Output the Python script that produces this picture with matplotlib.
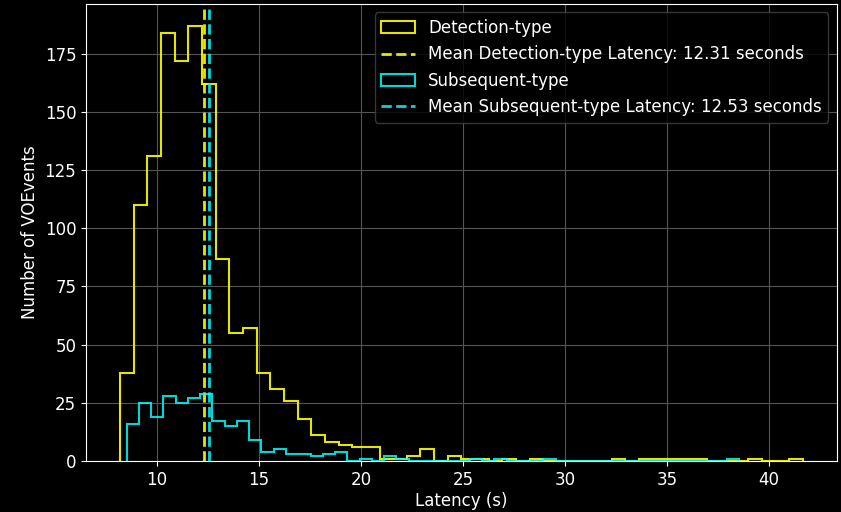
import numpy as np
import matplotlib
matplotlib.use("Agg")
import matplotlib.pyplot as plt

# Histogram bin ranges (s) and counts
det_range = (8.19, 41.65)
det_counts = [38, 110, 131, 184, 172, 187, 162, 87, 55, 57,
              38, 31, 26, 18, 11, 8, 7, 6, 6, 1,
              1, 2, 5, 0, 2, 1, 1, 0, 1, 0,
              1, 0, 0, 0, 0, 0, 1, 0, 1, 1,
              1, 1, 1, 0, 0, 0, 1, 0, 0, 1]
sub_range = (8.51, 38.55)
sub_counts = [16, 25, 19, 28, 25, 27, 29, 17, 15, 17,
              9, 4, 5, 3, 3, 2, 3, 4, 0, 1,
              0, 2, 1, 0, 0, 0, 0, 0, 1, 0,
              1, 0, 0, 0, 1, 0, 0, 0, 0, 0,
              0, 0, 0, 0, 0, 0, 0, 0, 0, 1]
mean_det = 12.31
mean_sub = 12.53

plt.style.use("dark_background")
plt.rcParams["font.size"] = 12

fig = plt.figure(figsize=(8.41, 5.12), dpi=100)
ax = fig.add_axes([0.1023, 0.0996, 0.8927, 0.8924])

det_edges = np.linspace(det_range[0], det_range[1], len(det_counts) + 1)
sub_edges = np.linspace(sub_range[0], sub_range[1], len(sub_counts) + 1)
det_centers = (det_edges[:-1] + det_edges[1:]) / 2
sub_centers = (sub_edges[:-1] + sub_edges[1:]) / 2

ax.hist(det_centers, bins=det_edges, weights=det_counts, histtype="step",
        color="yellow", alpha=0.9, linewidth=1.5, label="Detection-type")
ax.axvline(mean_det, color="yellow", alpha=0.9, linestyle="--", linewidth=2,
           label=f"Mean Detection-type Latency: {mean_det:.2f} seconds")
ax.hist(sub_centers, bins=sub_edges, weights=sub_counts, histtype="step",
        color="cyan", alpha=0.85, linewidth=1.5, label="Subsequent-type")
ax.axvline(mean_sub, color="cyan", alpha=0.85, linestyle="--", linewidth=2,
           label=f"Mean Subsequent-type Latency: {mean_sub:.2f} seconds")

ax.set_xlabel("Latency (s)", labelpad=2)
ax.set_ylabel("Number of VOEvents")
ax.grid(True, color="#555555", linewidth=0.8)
ax.set_axisbelow(True)
leg = ax.legend(loc="upper right", fontsize=12, facecolor="black",
                edgecolor="#444444", framealpha=0.8)

fig.savefig("out.png", dpi=100, facecolor="black")
